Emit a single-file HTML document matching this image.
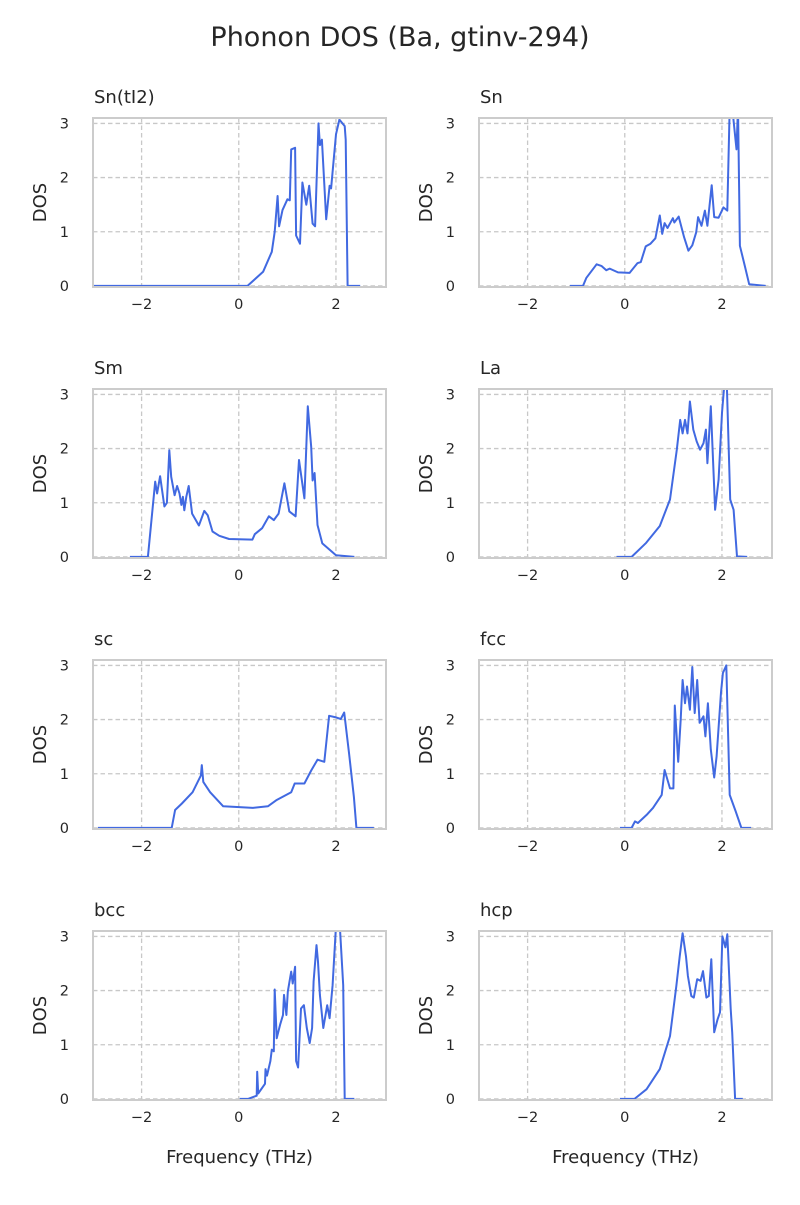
<!DOCTYPE html>
<html><head><meta charset="utf-8"><style>
body{margin:0;background:#fff}
svg text{font-family:"DejaVu Sans","Liberation Sans",sans-serif;fill:#262626}
</style></head><body>
<svg id="fig" width="800" height="1200" xmlns="http://www.w3.org/2000/svg">
<rect width="800" height="1200" fill="#fff"/>
<text x="400" y="46" font-size="27" text-anchor="middle">Phonon DOS (Ba, gtinv-294)</text>
</svg>
<script>
const panelTitles=["Sn(tI2)","Sn","Sm","La","sc","fcc","bcc","hcp"];
const xTicks=[-2,0,2];
const yTicks=[0,1,2,3];
const xLim=[-3.0,3.03];
const yLim=[-0.02,3.1];
const freqSnTI2=[-3,0.0,0.18,0.5,0.68,0.74,0.8,0.83,0.9,1.0,1.05,1.08,1.16,1.18,1.26,1.31,1.39,1.45,1.52,1.57,1.64,1.67,1.71,1.8,1.87,1.9,2.0,2.07,2.18,2.2,2.24,2.5];
const dosSnTI2=[0,0,0,0.26,0.63,1.0,1.66,1.1,1.4,1.6,1.58,2.52,2.55,0.93,0.78,1.91,1.5,1.85,1.15,1.1,3.0,2.6,2.7,1.23,1.85,1.8,2.8,3.07,2.95,2.7,0,0];
const freqSn=[-1.13,-0.86,-0.79,-0.58,-0.48,-0.38,-0.31,-0.14,0.1,0.26,0.33,0.43,0.53,0.63,0.72,0.77,0.82,0.88,0.99,1.02,1.11,1.22,1.31,1.39,1.47,1.51,1.58,1.65,1.7,1.79,1.84,1.93,2.03,2.11,2.16,2.21,2.3,2.33,2.37,2.47,2.56,2.9];
const dosSn=[0,0,0.15,0.4,0.37,0.29,0.32,0.25,0.24,0.42,0.44,0.73,0.78,0.88,1.3,0.96,1.16,1.07,1.25,1.17,1.28,0.9,0.65,0.75,0.99,1.27,1.11,1.39,1.11,1.86,1.27,1.26,1.45,1.39,3.3,3.3,2.52,3.3,0.74,0.37,0.03,0];
const freqSm=[-2.24,-1.87,-1.72,-1.68,-1.62,-1.53,-1.48,-1.43,-1.39,-1.32,-1.27,-1.22,-1.18,-1.15,-1.12,-1.08,-1.03,-0.96,-0.82,-0.71,-0.64,-0.54,-0.4,-0.2,0.28,0.33,0.48,0.62,0.72,0.82,0.94,1.04,1.17,1.24,1.35,1.42,1.49,1.52,1.56,1.62,1.72,2.0,2.38];
const dosSm=[0,0,1.39,1.17,1.49,0.93,1.0,1.97,1.48,1.14,1.31,1.17,0.96,1.11,0.86,1.11,1.31,0.8,0.58,0.85,0.77,0.47,0.39,0.33,0.32,0.42,0.53,0.75,0.68,0.8,1.36,0.84,0.75,1.79,1.08,2.78,2.03,1.41,1.55,0.59,0.25,0.03,0];
const freqLa=[-0.17,0.14,0.44,0.72,0.93,1.07,1.14,1.19,1.24,1.29,1.34,1.41,1.48,1.55,1.62,1.67,1.7,1.77,1.86,1.93,2.0,2.05,2.1,2.17,2.24,2.31,2.52];
const dosLa=[0,0,0.26,0.57,1.06,1.98,2.53,2.28,2.53,2.28,2.87,2.35,2.13,1.98,2.1,2.35,1.73,2.78,0.87,1.43,2.66,3.2,3.2,1.06,0.87,0.01,0];
const freqSc=[-2.9,-1.38,-1.31,-1.17,-0.95,-0.78,-0.76,-0.73,-0.59,-0.32,0.29,0.6,0.77,1.08,1.15,1.35,1.49,1.62,1.76,1.86,2.0,2.1,2.17,2.27,2.37,2.42,2.78];
const dosSc=[0,0,0.33,0.45,0.66,0.97,1.16,0.85,0.66,0.4,0.37,0.4,0.51,0.66,0.82,0.82,1.06,1.26,1.22,2.07,2.04,2.01,2.13,1.37,0.57,0,0];
const freqFcc=[-0.1,0.14,0.21,0.27,0.45,0.58,0.76,0.82,0.93,1.0,1.03,1.1,1.15,1.19,1.24,1.28,1.34,1.39,1.44,1.49,1.54,1.62,1.66,1.71,1.77,1.84,1.89,1.98,2.02,2.09,2.16,2.28,2.4,2.6];
const dosFcc=[0,0,0.12,0.09,0.24,0.37,0.61,1.07,0.73,0.73,2.26,1.22,2.0,2.73,2.3,2.61,2.18,2.97,2.12,2.73,1.94,2.06,1.69,2.3,1.45,0.93,1.32,2.5,2.86,3.0,0.61,0.31,0,0];
const freqBcc=[0.02,0.19,0.37,0.38,0.4,0.54,0.55,0.58,0.65,0.68,0.72,0.74,0.78,0.85,0.91,0.93,0.98,1.01,1.08,1.11,1.16,1.18,1.22,1.28,1.34,1.4,1.46,1.51,1.54,1.6,1.63,1.67,1.74,1.82,1.87,1.93,2.0,2.08,2.15,2.18,2.38];
const dosBcc=[0,0,0.06,0.5,0.1,0.28,0.55,0.43,0.7,0.91,0.88,2.02,1.12,1.37,1.55,1.92,1.55,1.98,2.35,2.13,2.44,0.7,0.58,1.67,1.73,1.31,1.03,1.31,2.17,2.84,2.53,1.92,1.31,1.73,1.49,2.1,3.2,3.2,2.1,0,0];
const freqHcp=[-0.1,0.2,0.45,0.72,0.93,1.06,1.13,1.19,1.26,1.3,1.37,1.42,1.49,1.56,1.61,1.68,1.73,1.78,1.84,1.91,1.96,2.01,2.07,2.11,2.18,2.21,2.27,2.43];
const dosHcp=[0,0,0.18,0.55,1.16,2.08,2.63,3.06,2.63,2.27,1.9,1.87,2.21,2.18,2.36,1.87,1.9,2.58,1.23,1.47,1.6,3.0,2.8,3.04,1.66,1.23,0,0];
const freqs=[freqSnTI2,freqSn,freqSm,freqLa,freqSc,freqFcc,freqBcc,freqHcp];
const doses=[dosSnTI2,dosSn,dosSm,dosLa,dosSc,dosFcc,dosBcc,dosHcp];

const NS="http://www.w3.org/2000/svg";
const svg=document.getElementById('fig');
function mk(tag,attrs,parent){const e=document.createElementNS(NS,tag);for(const k in attrs)e.setAttribute(k,attrs[k]);(parent||svg).appendChild(e);return e;}
const colX=[93,479], rowY=[118,389,660,931], W=293, H=169;
for(let i=0;i<8;i++){
  const x0=colX[i%2], y0=rowY[Math.floor(i/2)];
  const sx=v=>x0+(v-xLim[0])/(xLim[1]-xLim[0])*W;
  const sy=v=>y0+H-(v-yLim[0])/(yLim[1]-yLim[0])*H;
  const g=mk('g',{});
  
  
  xTicks.forEach(t=>{
    const l=mk('line',{x1:sx(t),x2:sx(t),y1:y0,y2:y0+H,stroke:'#c8c8c8','stroke-width':1.3,'stroke-dasharray':'4.5,3'},g);
    
    
    const tx=mk('text',{x:sx(t),y:y0+H+22,'font-size':14.5,'text-anchor':'middle'},g);
    tx.textContent=(t<0?'\u2212':'')+Math.abs(t);
    
    
  });
  yTicks.forEach(t=>{
    const l=mk('line',{x1:x0,x2:x0+W,y1:sy(t),y2:sy(t),stroke:'#c8c8c8','stroke-width':1.3,'stroke-dasharray':'4.5,3'},g);
    
    
    const tx=mk('text',{x:x0-24,y:sy(t)+5,'font-size':14.5,'text-anchor':'end'},g);
    tx.textContent=t;
    
    
  });
  const cid='clip'+i;
  const cp=mk('clipPath',{id:cid},g);mk('rect',{x:x0,y:y0,width:W,height:H},cp);
  const d=freqs[i].map((f,j)=>(j?'L':'M')+sx(f).toFixed(1)+','+sy(doses[i][j]).toFixed(1)).join('');
  const p=mk('path',{d:d,fill:'none',stroke:'#4169e1','stroke-width':2,'stroke-linejoin':'round','clip-path':'url(#'+cid+')'},g);
  
  
  const fr=mk('rect',{x:x0,y:y0,width:W,height:H,fill:'none',stroke:'#cccccc','stroke-width':2},g);
  
  
  const tt=mk('text',{x:x0+1,y:y0-15,'font-size':18},g);
  tt.textContent=panelTitles[i];
  
  
  const yl=mk('text',{x:0,y:0,'font-size':18,'text-anchor':'middle',transform:'translate('+(x0-47)+','+(y0+H/2)+') rotate(-90)'},g);
  yl.textContent='DOS';
  
  
  if(i>=6){
    const xl=mk('text',{x:x0+W/2,y:y0+H+63,'font-size':18,'text-anchor':'middle'},g);
    xl.textContent='Frequency (THz)';
    
    
  }
}
</script>
</body></html>
